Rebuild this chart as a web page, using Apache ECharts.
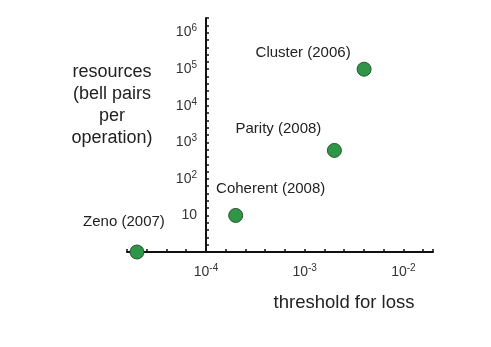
<!DOCTYPE html>
<html>
<head>
<meta charset="utf-8">
<script src="https://cdn.jsdelivr.net/npm/echarts@6/dist/echarts.min.js"></script>
<style>
  html, body { margin: 0; padding: 0; background: #fff; }
  #chart { width: 491px; height: 347px; }
</style>
</head>
<body>
<div id="chart"></div>
<script>
// schemes and where they sit (threshold for loss, bell pairs per operation)
const names = ['Zeno (2007)', 'Coherent (2008)', 'Parity (2008)', 'Cluster (2006)'];
const thresholds = [2.0e-5, 2.0e-4, 2.0e-3, 4.0e-3];
const resources = [1, 10, 600, 1e5];

// label placement relative to each dot (style only)
const labelOffsets = [[-13, -30], [35, -27], [-56, -22], [-61, -16]];

const FONT = '"Liberation Sans", Arial, sans-serif';

const chart = echarts.init(document.getElementById('chart'));

// only label whole decades, written as 10 with a superscript
function powerLabel(value, skipOne) {
    const e = Math.log10(value);
    const r = Math.round(e);
    if (Math.abs(e - r) > 1e-6) return '';
    if (skipOne && r === 0) return '';
    if (r === 1) return '{b|10}';
    return '{b|10}{s|' + r + '}';
}

const labelRich = {
    b: { fontSize: 14, color: '#333', fontFamily: FONT, lineHeight: 18 },
    s: { fontSize: 10, color: '#333', fontFamily: FONT, verticalAlign: 'top', lineHeight: 11 }
};

const points = thresholds.map((t, i) => ({
    name: names[i],
    value: [t, resources[i]],
    label: { offset: labelOffsets[i] }
}));

const option = {
    animation: false,
    grid: { left: 127, right: 58, top: 18, bottom: 95 },
    xAxis: {
        type: 'log',
        min: Math.pow(10, -4.8),
        max: Math.pow(10, -1.7),
        interval: 0.2,
        axisLine: { lineStyle: { color: '#111', width: 2 } },
        axisTick: { inside: true, length: 3, lineStyle: { color: '#111', width: 1.5 } },
        axisLabel: {
            margin: 11,
            formatter: v => powerLabel(v, false),
            rich: labelRich
        },
        splitLine: { show: false }
    },
    yAxis: {
        type: 'log',
        min: 1,
        max: Math.pow(10, 6.4),
        interval: 0.2,
        offset: -79,
        axisLine: { lineStyle: { color: '#111', width: 2 } },
        axisTick: { inside: true, length: 3, lineStyle: { color: '#111', width: 1.5 } },
        axisLabel: {
            margin: 9,
            formatter: v => powerLabel(v, true),
            rich: labelRich
        },
        splitLine: { show: false }
    },
    series: [{
        type: 'scatter',
        data: points,
        symbolSize: 14,
        itemStyle: { color: '#2e9646', borderColor: '#2b5233', borderWidth: 1, opacity: 1 },
        label: {
            show: true,
            position: 'inside',
            formatter: '{b}',
            fontFamily: FONT,
            fontSize: 15,
            color: '#222'
        },
        z: 3
    }],
    graphic: [
        {
            type: 'text',
            x: 112,
            y: 61,
            style: {
                text: 'resources\n(bell pairs\nper\noperation)',
                font: '18px ' + FONT,
                fill: '#222',
                align: 'center',
                verticalAlign: 'top',
                lineHeight: 22
            }
        },
        {
            type: 'text',
            x: 344,
            y: 303,
            style: {
                text: 'threshold for loss',
                font: '18.5px ' + FONT,
                fill: '#222',
                align: 'center',
                verticalAlign: 'middle'
            }
        }
    ]
};

chart.setOption(option);
</script>
</body>
</html>
